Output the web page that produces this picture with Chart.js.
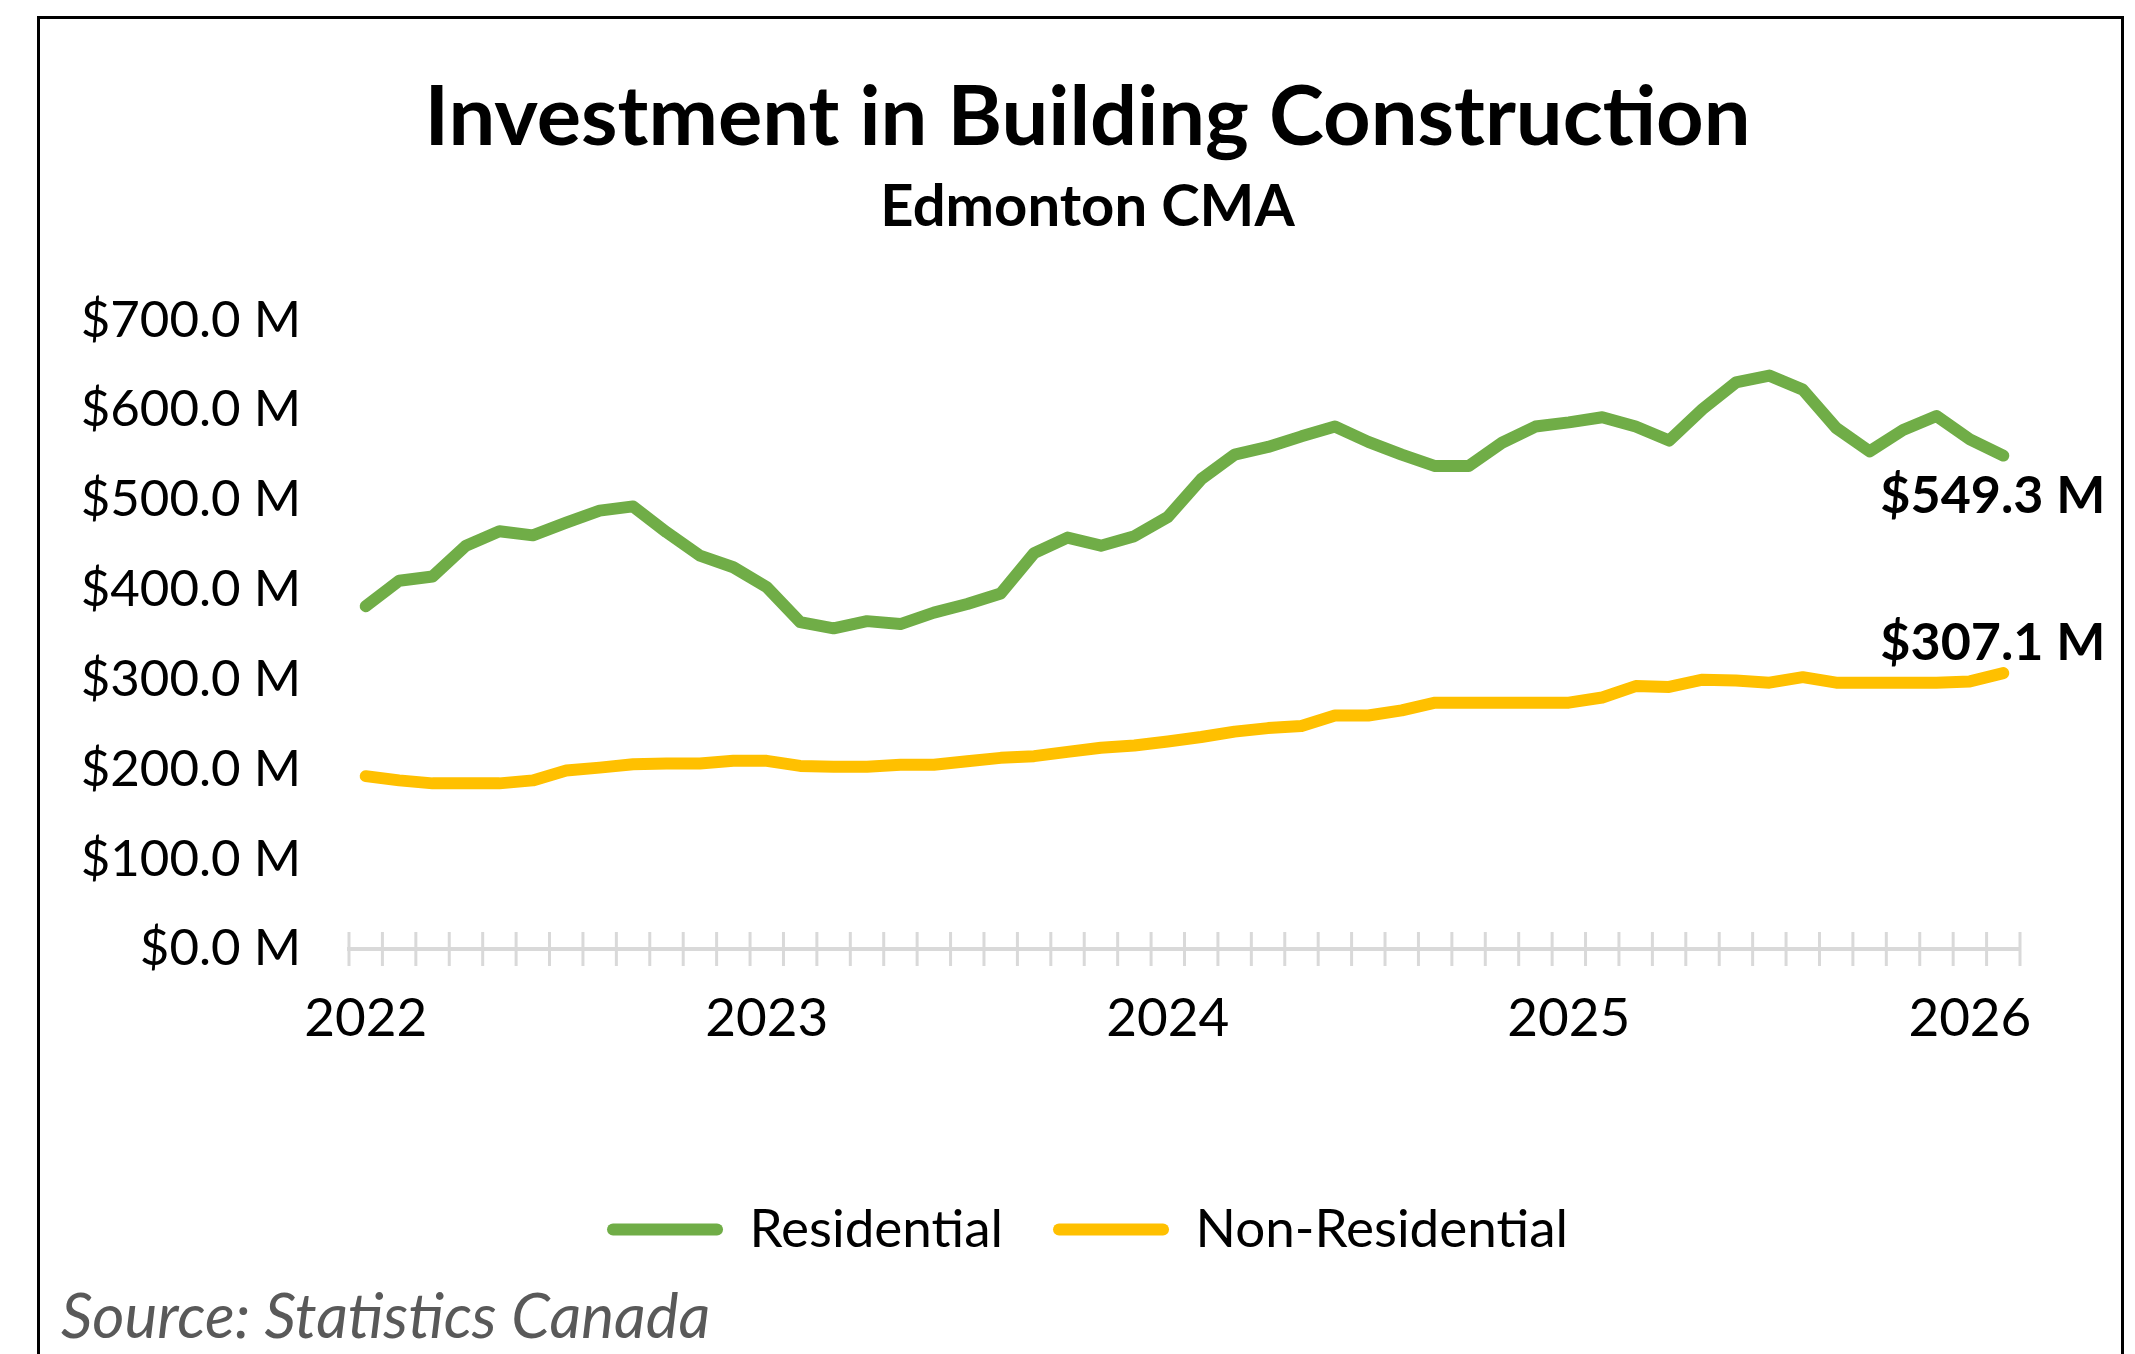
<!DOCTYPE html>
<html>
<head>
<meta charset="utf-8">
<script src="https://cdn.jsdelivr.net/npm/chart.js@4.4.1/dist/chart.umd.min.js"></script>
<style>
    html, body { margin: 0; padding: 0; background: #fff; overflow: hidden; }
    #wrap { position: absolute; left: 0; top: 0; width: 2135px; height: 1354px; }
    #frame { position: absolute; left: 37px; top: 16px; width: 2081px; height: 1400px; border: 3px solid #000; pointer-events: none; }
    #fonte { position: absolute; left: 61px; top: 1277px; font: italic 62px Lato, sans-serif; color: #595959; line-height: 74px; }
</style>
</head>
<body>
<div id="wrap">
    <canvas id="grafico" width="2135" height="1354"></canvas>
    <div id="frame"></div>
    <div id="fonte">Source: Statistics Canada</div>
</div>
<script>
// Meses (jan 2022 - fev 2026)
const meses = [
    'Jan 2022', 'Feb 2022', 'Mar 2022', 'Apr 2022', 'May 2022', 'Jun 2022', 'Jul 2022', 'Aug 2022', 'Sep 2022', 'Oct 2022', 'Nov 2022', 'Dec 2022',
    'Jan 2023', 'Feb 2023', 'Mar 2023', 'Apr 2023', 'May 2023', 'Jun 2023', 'Jul 2023', 'Aug 2023', 'Sep 2023', 'Oct 2023', 'Nov 2023', 'Dec 2023',
    'Jan 2024', 'Feb 2024', 'Mar 2024', 'Apr 2024', 'May 2024', 'Jun 2024', 'Jul 2024', 'Aug 2024', 'Sep 2024', 'Oct 2024', 'Nov 2024', 'Dec 2024',
    'Jan 2025', 'Feb 2025', 'Mar 2025', 'Apr 2025', 'May 2025', 'Jun 2025', 'Jul 2025', 'Aug 2025', 'Sep 2025', 'Oct 2025', 'Nov 2025', 'Dec 2025',
    'Jan 2026', 'Feb 2026'
];

// Valores em milhoes de dolares
const residencial = [
    381.6, 410, 414.7, 449, 465, 460.5, 474.7, 488, 492.7, 464, 438, 425,
    402.8, 363.8, 357, 365, 361.7, 374.5, 384, 395.7, 440.7, 458, 449, 459.6,
    481, 523, 550.4, 558.9, 570.7, 581.6, 564.5, 550.4, 537.6, 537.6, 563.6, 581.6,
    586.3, 592, 581.6, 566, 601, 630.7, 638.3, 622.7, 580, 554, 577.8, 593.4,
    567.4, 549.3
];
const naoResidencial = [
    192.4, 187.7, 184.4, 184.4, 184.4, 187.7, 198.6, 201.9, 205.7, 206.6, 206.6, 209.5,
    209.5, 203.8, 202.8, 202.8, 205.2, 205.2, 209, 212.8, 214.7, 219.4, 224, 226.5,
    231, 236, 242, 245.9, 248.2, 260, 260, 265.7, 274.2, 274.2, 274.2, 274.2,
    274.2, 280, 292.7, 291.7, 299.8, 298.8, 296.5, 302.6, 296.5, 296.5, 296.5, 296.5,
    297.9, 307.1
];

const verde = '#70AD47';
const amarelo = '#FFC000';
const cinza = '#D9D9D9';
const fonte = 'Lato';

// Marcas do eixo x cruzando a linha (estilo Excel)
const marcasEixo = {
    id: 'marcasEixo',
    afterDraw(chart) {
        const x = chart.scales.x;
        const ctx = chart.ctx;
        const passo = x.getPixelForValue(1) - x.getPixelForValue(0);
        const base = chart.chartArea.bottom;
        ctx.save();
        ctx.strokeStyle = cinza;
        ctx.lineWidth = 3;
        for (let i = 0; i <= meses.length; i++) {
            const px = x.getPixelForValue(0) - passo / 2 + i * passo;
            ctx.beginPath();
            ctx.moveTo(px, base - 17);
            ctx.lineTo(px, base + 17);
            ctx.stroke();
        }
        ctx.restore();
    }
};

// Rotulo do ultimo valor de cada serie
const rotuloFinal = {
    id: 'rotuloFinal',
    afterDatasetsDraw(chart) {
        const ctx = chart.ctx;
        ctx.save();
        ctx.font = 'bold 52px ' + fonte;
        ctx.fillStyle = '#000';
        ctx.textAlign = 'right';
        ctx.textBaseline = 'middle';
        chart.data.datasets.forEach((ds, i) => {
            const meta = chart.getDatasetMeta(i);
            const p = meta.data[meta.data.length - 1];
            const v = ds.data[ds.data.length - 1];
            const dy = i === 0 ? 41 : -30;
            ctx.fillText('$' + v.toFixed(1) + ' M', p.x + 102, p.y + dy);
        });
        ctx.restore();
    }
};

const ctxGrafico = document.getElementById('grafico').getContext('2d');
new Chart(ctxGrafico, {
    type: 'line',
    data: {
        labels: meses,
        datasets: [
            {
                label: 'Residential',
                data: residencial,
                borderColor: verde,
                backgroundColor: verde,
                borderWidth: 12,
                pointRadius: 0,
                tension: 0,
                borderCapStyle: 'round',
                borderJoinStyle: 'round',
                yAxisID: 'y',
            },
            {
                label: 'Non-Residential',
                data: naoResidencial,
                borderColor: amarelo,
                backgroundColor: amarelo,
                borderWidth: 12,
                pointRadius: 0,
                tension: 0,
                borderCapStyle: 'round',
                borderJoinStyle: 'round',
                yAxisID: 'y',
            }
        ]
    },
    options: {
        responsive: false,
        animation: false,
        layout: { padding: { left: 40, right: 0, top: 0, bottom: 88 } },
        plugins: {
            title: {
                display: true,
                text: 'Investment in Building Construction',
                color: '#000',
                font: { family: fonte, size: 83, weight: 'bold', lineHeight: 1.2 },
                padding: { top: 68, bottom: 0 },
            },
            subtitle: {
                display: true,
                text: 'Edmonton CMA',
                color: '#000',
                font: { family: fonte, size: 58, weight: 'bold', lineHeight: 1.2 },
                padding: { top: 5, bottom: 78 },
            },
            legend: {
                position: 'bottom',
                labels: {
                    color: '#000',
                    font: { family: fonte, size: 53 },
                    boxWidth: 116,
                    boxHeight: 12,
                    padding: 50,
                    useBorderRadius: true,
                    borderRadius: 6,
                    generateLabels(chart) {
                        return chart.data.datasets.map((ds, i) => ({
                            text: ds.label,
                            fillStyle: ds.borderColor,
                            strokeStyle: ds.borderColor,
                            lineWidth: 0,
                            borderRadius: 6,
                            fontColor: '#000',
                            datasetIndex: i,
                        }));
                    }
                }
            },
            tooltip: { enabled: false },
        },
        scales: {
            x: {
                offset: true,
                grid: { display: false },
                border: { display: true, color: cinza, width: 4 },
                ticks: {
                    autoSkip: false,
                    maxRotation: 0,
                    color: '#000',
                    font: { family: fonte, size: 53 },
                    padding: 30,
                    callback: (v, i) => i % 12 === 0 ? meses[i].slice(4) : '',
                },
                afterFit(scale) { scale.height = 204; },
            },
            y: {
                min: 0,
                max: 700,
                grid: { display: false },
                border: { display: false },
                ticks: {
                    stepSize: 100,
                    color: '#000',
                    font: { family: fonte, size: 51 },
                    padding: 40,
                    callback: v => '$' + v.toFixed(1) + ' M',
                },
                afterFit(scale) { scale.width = 309; },
            },
            direita: {
                position: 'right',
                display: true,
                grid: { display: false },
                border: { display: false },
                ticks: { display: false },
                afterFit(scale) { scale.width = 115; },
            }
        }
    },
    plugins: [marcasEixo, rotuloFinal],
});
</script>
</body>
</html>
